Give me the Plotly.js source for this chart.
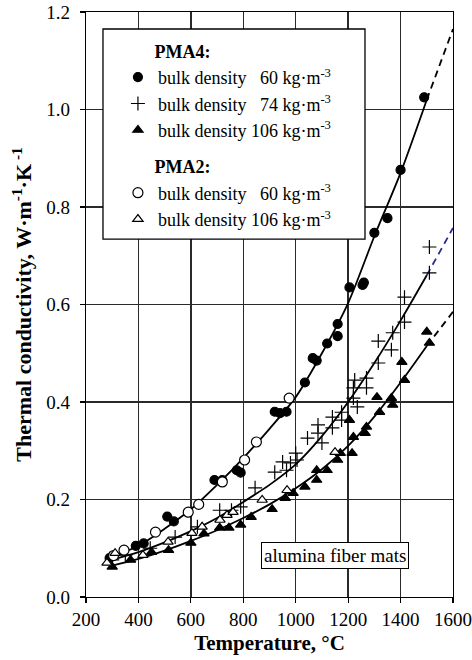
<!DOCTYPE html>
<html>
<head>
<meta charset="utf-8">
<script src="https://cdn.plot.ly/plotly-3.0.1.min.js"></script>
<style>html,body{margin:0;padding:0;background:#fff;}#chart{width:472px;height:660px;}</style>
</head>
<body>
<div id="chart"></div>
<script>
// PMA4, bulk density 60 kg/m3 (filled circles)
const pma4_60_T = [290, 390, 420, 510, 535, 690, 720, 775, 790, 920, 940, 965, 1035, 1065, 1080, 1120, 1160, 1160, 1205, 1255, 1260, 1300, 1350, 1400, 1490];
const pma4_60_k = [0.08, 0.105, 0.11, 0.165, 0.155, 0.24, 0.24, 0.26, 0.255, 0.38, 0.377, 0.38, 0.44, 0.49, 0.485, 0.52, 0.535, 0.56, 0.635, 0.64, 0.645, 0.747, 0.777, 0.876, 1.025];
// PMA4, bulk density 74 kg/m3 (crosses)
const pma4_74_T = [300, 350, 445, 540, 625, 710, 755, 790, 845, 920, 950, 965, 980, 1005, 1000, 1045, 1085, 1085, 1100, 1140, 1140, 1175, 1175, 1220, 1225, 1235, 1220, 1270, 1270, 1315, 1315, 1365, 1370, 1415, 1415, 1510, 1510];
const pma4_74_k = [0.076, 0.086, 0.10, 0.123, 0.144, 0.178, 0.178, 0.185, 0.224, 0.256, 0.277, 0.26, 0.275, 0.281, 0.295, 0.326, 0.336, 0.353, 0.316, 0.347, 0.369, 0.363, 0.379, 0.408, 0.445, 0.39, 0.429, 0.429, 0.449, 0.48, 0.525, 0.507, 0.542, 0.564, 0.615, 0.665, 0.718];
// PMA4, bulk density 106 kg/m3 (filled triangles)
const pma4_106_T = [300, 370, 450, 515, 600, 650, 710, 745, 790, 830, 910, 960, 990, 1035, 1080, 1080, 1120, 1160, 1170, 1215, 1220, 1205, 1265, 1270, 1310, 1320, 1365, 1370, 1405, 1415, 1500, 1510];
const pma4_106_k = [0.062, 0.076, 0.092, 0.096, 0.111, 0.13, 0.142, 0.142, 0.148, 0.164, 0.18, 0.203, 0.213, 0.226, 0.24, 0.26, 0.26, 0.281, 0.295, 0.295, 0.328, 0.363, 0.336, 0.349, 0.41, 0.379, 0.408, 0.394, 0.482, 0.445, 0.544, 0.521];
// PMA2, bulk density 60 kg/m3 (open circles)
const pma2_60_T = [305, 345, 465, 590, 630, 720, 805, 850, 975];
const pma2_60_k = [0.085, 0.096, 0.133, 0.174, 0.19, 0.236, 0.281, 0.318, 0.408];
// PMA2, bulk density 106 kg/m3 (open triangles)
const pma2_106_T = [280, 311, 417, 513, 604, 643, 711, 738, 761, 872, 967, 1150];
const pma2_106_k = [0.07, 0.09, 0.086, 0.113, 0.131, 0.144, 0.158, 0.168, 0.174, 0.199, 0.219, 0.297];

// Fitted curves
const fitT = [290, 400, 500, 600, 700, 800, 900, 1000, 1100, 1200, 1300, 1400, 1500];
const fit60_k = [0.08, 0.105, 0.14, 0.18, 0.23, 0.285, 0.345, 0.41, 0.50, 0.603, 0.74, 0.87, 1.02];
const fit74_k = [0.075, 0.092, 0.112, 0.135, 0.162, 0.195, 0.23, 0.272, 0.33, 0.40, 0.48, 0.567, 0.66];
const fit106_k = [0.063, 0.078, 0.095, 0.115, 0.137, 0.162, 0.19, 0.223, 0.262, 0.31, 0.37, 0.44, 0.515];
// Extrapolations (dashed)
const extT = [1500, 1600];
const ext60_k = [1.02, 1.165];
const ext74_k = [0.66, 0.757];
const ext106_k = [0.515, 0.585];

const xTicks = [200, 400, 600, 800, 1000, 1200, 1400, 1600];
const yTicks = [0.0, 0.2, 0.4, 0.6, 0.8, 1.0, 1.2];

const serif = "'Liberation Serif', 'Times New Roman', serif";
const nb = "\u00A0";
const sp = nb + nb;
const unit = " kg·m<sup>-3</sup>";
const gpad = nb.repeat(7);

function curve(x, y, dash, color) {
  return {x: x, y: y, type: 'scatter', mode: 'lines', showlegend: false, hoverinfo: 'skip',
    line: {color: color || '#000', width: 1.8, dash: dash || 'solid', shape: 'spline', smoothing: 0.8}};
}
function pts(x, y, name, group, gtitle, symbol, fill, size) {
  const tr = {x: x, y: y, type: 'scatter', mode: 'markers', name: name, legendgroup: group,
    marker: {symbol: symbol, size: size, color: fill, line: {color: '#000', width: 1.2}}};
  if (gtitle) tr.legendgrouptitle = {text: gtitle, font: {family: serif, size: 18, color: '#000', weight: 'bold'}};
  return tr;
}

const data = [
  curve(fitT, fit60_k), curve(fitT, fit74_k), curve(fitT, fit106_k),
  curve(extT, ext60_k, '7px,5px'), curve(extT, ext74_k, '7px,5px', '#2b2b8c'), curve(extT, ext106_k, '7px,5px'),
  pts(pma4_60_T, pma4_60_k, 'bulk density ' + sp + '60' + unit, 'g1', gpad + '<b>PMA4:</b>', 'circle', '#000', 9),
  pts(pma4_74_T, pma4_74_k, 'bulk density ' + sp + '74' + unit, 'g1', null, 'cross-thin-open', '#000', 10),
  pts(pma4_106_T, pma4_106_k, 'bulk density 106' + unit, 'g1', null, 'triangle-up', '#000', 9),
  pts(pma2_60_T, pma2_60_k, 'bulk density ' + sp + '60' + unit, 'g2', gpad + '<b>PMA2:</b>', 'circle', '#fff', 10),
  pts(pma2_106_T, pma2_106_k, 'bulk density 106' + unit, 'g2', null, 'triangle-up', '#fff', 9)
];

const axisCommon = {
  showline: true, linecolor: '#000', linewidth: 1.3, mirror: true,
  showgrid: true, gridcolor: '#2a2a2a', gridwidth: 1.4,
  ticks: 'outside', ticklen: 5, tickcolor: '#000', tickwidth: 1.2,
  zeroline: false,
  tickfont: {family: serif, size: 19, color: '#000'}
};

const layout = {
  width: 472, height: 660,
  margin: {l: 86, r: 19, t: 12, b: 63},
  paper_bgcolor: '#fff', plot_bgcolor: '#fff',
  font: {family: serif, color: '#000'},
  xaxis: Object.assign({}, axisCommon, {
    range: [200, 1600], tickvals: xTicks, ticktext: xTicks.map(String),
    title: {text: '<b>Temperature, °C</b>', font: {family: serif, size: 21, color: '#000'}, standoff: 6}
  }),
  yaxis: Object.assign({}, axisCommon, {
    range: [0, 1.2], tickvals: yTicks, ticktext: yTicks.map(v => v.toFixed(1)),
    ticklabelstandoff: 6,
    title: {text: '<b>Thermal conductivity, W·m<sup>-1</sup>·K<sup> -1</sup></b>', font: {family: serif, size: 22, color: '#000'}, standoff: 8}
  }),
  showlegend: true,
  legend: {
    x: 0.087, y: 0.965, xanchor: 'left', yanchor: 'top',
    bgcolor: 'rgba(0,0,0,0)', borderwidth: 0,
    font: {family: serif, size: 18, color: '#000'},
    traceorder: 'grouped', tracegroupgap: 10, itemwidth: 30
  },
  shapes: [{
    type: 'rect', xref: 'paper', yref: 'paper', layer: 'above',
    x0: 0.0463, x1: 0.7602, y0: 0.6119, y1: 0.9709,
    fillcolor: '#fff', line: {color: '#000', width: 1.3}
  }],
  annotations: [{
    x: 1150, y: 0.086, xref: 'x', yref: 'y', showarrow: false,
    text: 'alumina fiber mats', font: {family: serif, size: 19, color: '#000'},
    bgcolor: '#fff', bordercolor: '#000', borderwidth: 1, borderpad: 2
  }]
};

Plotly.newPlot('chart', data, layout, {displayModeBar: false, staticPlot: true});
</script>
</body>
</html>
